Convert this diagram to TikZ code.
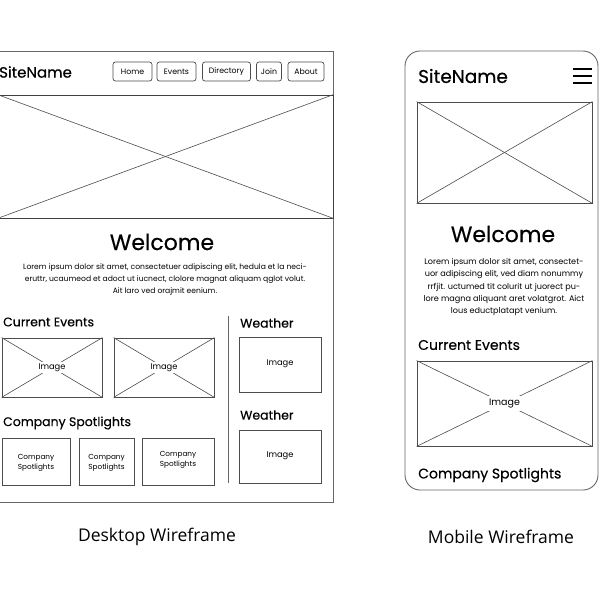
\documentclass[tikz,border=0pt]{standalone}
\usepackage{fontspec}
\newfontfamily\wf{Poppins}
\newfontfamily\wfh[FakeBold=0.35]{Poppins}
\newfontfamily\capf{Open Sans}
\begin{document}
\begin{tikzpicture}[x=1pt,y=-1pt,
  frame/.style={draw=black!60,line width=0.9pt},
  box/.style={draw=black!70,line width=0.8pt,inner sep=0pt},
  navbtn/.style={draw=black!70,line width=0.7pt,rounded corners=2.5pt,inner sep=0pt,minimum height=19pt,font=\wf\fontsize{7.8}{9}\selectfont},
  xline/.style={draw=black!70,line width=0.6pt},
  lbl/.style={fill=white,inner sep=1.5pt,font=\wf\fontsize{8.3}{9}\selectfont},
  spot/.style={align=center,font=\wf\fontsize{7.3}{10}\selectfont},
  head/.style={anchor=west,inner sep=0pt,font=\wfh\fontsize{12.5}{14}\selectfont},
  body/.style={align=center,inner sep=0pt,font=\wf\fontsize{7.6}{12}\selectfont},
  caption/.style={font=\capf\fontsize{17.5}{20}\selectfont}]
\useasboundingbox (0,0) rectangle (600,600);
\fill[white] (0,0) rectangle (600,600);

% ---------- desktop page ----------
\node[frame,inner sep=0pt,minimum width=336pt,minimum height=451pt] (dframe) at (165.5,276.5) {};
\coordinate (hdrL) at (-2,95);
\coordinate (hdrR) at (333,95);
\draw[frame] (hdrL) -- (hdrR);
\node[anchor=west,inner sep=0pt,font=\wfh\fontsize{15}{17}\selectfont] (dsite) at (-1,72) {SiteName};
\node[navbtn,minimum width=39pt] (bhome) at (132.5,71.5) {Home};
\node[navbtn,minimum width=39pt] (bevents) at (176.5,71.5) {Events};
\node[navbtn,minimum width=48pt] (bdir) at (226.5,71.5) {Directory};
\node[navbtn,minimum width=25pt] (bjoin) at (269,71.5) {Join};
\node[navbtn,minimum width=36pt] (babout) at (306,71.5) {About};

% hero image
\node[box,draw=black!75,minimum width=335pt,minimum height=123pt] (dhero) at (165.5,156.5) {};
\draw[xline] (dhero.north west) -- (dhero.south east);
\draw[xline] (dhero.south west) -- (dhero.north east);

\node[font=\wfh\fontsize{22}{24}\selectfont] (dwelcome) at (162,242) {Welcome};
\node[body] (dlorem) at (165,280) {Lorem ipsum dolor sit amet, consectetuer adipiscing elit, hedula et la neci-\\eruttr, ucaumeod et adoct ut iucnect, clolore magnat aliquam qglot volut.\\Ait laro ved orajmit eenium.};

% current events
\node[head] (dce) at (3,322) {Current Events};
\node[box,minimum width=100pt,minimum height=59pt] (ce1) at (52,367.5) {};
\draw[xline] (ce1.north west) -- (ce1.south east);
\draw[xline] (ce1.south west) -- (ce1.north east);
\node[lbl] (ce1l) at (ce1.center) {Image};
\node[box,minimum width=100pt,minimum height=59pt] (ce2) at (164,367.5) {};
\draw[xline] (ce2.north west) -- (ce2.south east);
\draw[xline] (ce2.south west) -- (ce2.north east);
\node[lbl] (ce2l) at (ce2.center) {Image};

% company spotlights
\node[head] (dcs) at (3,423) {Company Spotlights};
\node[box,minimum width=68pt,minimum height=47pt] (cs1) at (36,461.5) {};
\node[spot] (cs1l) at (36,463) {Company\\Spotlights};
\node[box,minimum width=55pt,minimum height=47pt] (cs2) at (106.5,461.5) {};
\node[spot] (cs2l) at (106.5,463) {Company\\Spotlights};
\node[box,minimum width=72pt,minimum height=47pt] (cs3) at (178,461.5) {};
\node[spot] (cs3l) at (178,460) {Company\\Spotlights};

% sidebar
\coordinate (divT) at (228,316);
\coordinate (divB) at (228,483);
\draw[draw=black!60,line width=0.8pt] (divT) -- (divB);
\node[head] (dw1) at (240,323) {Weather};
\node[box,minimum width=82pt,minimum height=55pt] (w1) at (280,364.5) {};
\node[lbl] (w1l) at (280,364) {Image};
\node[head] (dw2) at (240,415) {Weather};
\node[box,minimum width=82pt,minimum height=53pt] (w2) at (280,456.5) {};
\node[lbl] (w2l) at (280,456) {Image};

% ---------- mobile page ----------
\draw[frame,rounded corners=15pt] (405,51) rectangle (598,490);
\node[anchor=west,inner sep=0pt,font=\wfh\fontsize{18.5}{20}\selectfont] (msite) at (418,76) {SiteName};
\coordinate (hb1L) at (573,69); \coordinate (hb1R) at (592,69);
\coordinate (hb2L) at (573,76); \coordinate (hb2R) at (592,76);
\coordinate (hb3L) at (573,83); \coordinate (hb3R) at (592,83);
\draw[line width=1.8pt] (hb1L) -- (hb1R) (hb2L) -- (hb2R) (hb3L) -- (hb3R);

\node[box,minimum width=175pt,minimum height=101pt] (mhero) at (504.5,152.5) {};
\draw[xline] (mhero.north west) -- (mhero.south east);
\draw[xline] (mhero.south west) -- (mhero.north east);

\node[font=\wfh\fontsize{22}{24}\selectfont] (mwelcome) at (503,234) {Welcome};
\node[body,font=\wf\fontsize{8.1}{12.2}\selectfont] (mlorem) at (504,287) {Lorem ipsum dolor sit amet, consectet-\\uor adipiscing elit, ved diam nonummy\\rrfjit. uctumed tit colurit ut juorect pu-\\lore magna aliquant aret volatgrot. Aict\\lous eductplatapt venium.};

\node[head,font=\wfh\fontsize{14}{16}\selectfont] (mce) at (418,345) {Current Events};
\node[box,minimum width=175pt,minimum height=85pt] (mimg) at (504.5,403.5) {};
\draw[xline] (mimg.north west) -- (mimg.south east);
\draw[xline] (mimg.south west) -- (mimg.north east);
\node[lbl,font=\wf\fontsize{9.5}{10}\selectfont,inner sep=3pt] (mimgl) at (mimg.center) {Image};
\node[head,font=\wfh\fontsize{14}{16}\selectfont] (mcs) at (418,475) {Company Spotlights};

% ---------- captions ----------
\node[caption] (capd) at (157,537) {Desktop Wireframe};
\node[caption] (capm) at (501,537) {Mobile Wireframe};
\end{tikzpicture}
\end{document}
